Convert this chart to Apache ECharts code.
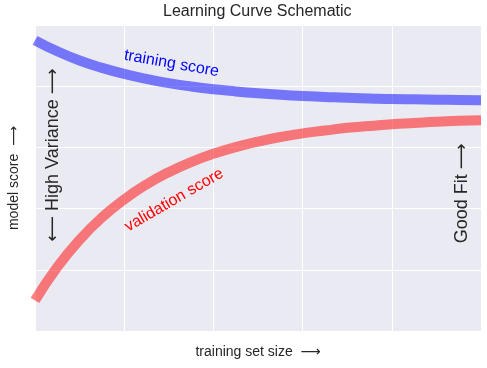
<!DOCTYPE html>
<html>
<head>
<meta charset="utf-8">
<script src="https://cdn.jsdelivr.net/npm/echarts@6/dist/echarts.min.js"></script>
<style>
html,body{margin:0;padding:0;background:#fff;}
#c{width:487px;height:368px;}
</style>
</head>
<body>
<div id="c"></div>
<script>
// training set size (fraction)
var trainingSize = [0, 0.05, 0.1, 0.15, 0.2, 0.25, 0.3, 0.35, 0.4, 0.45, 0.5, 0.55, 0.6, 0.65, 0.7, 0.75, 0.8, 0.85, 0.9, 0.95, 1.0];
var trainingScore = [0.950, 0.914, 0.884, 0.860, 0.840, 0.824, 0.810, 0.799, 0.790, 0.783, 0.777, 0.772, 0.768, 0.765, 0.762, 0.760, 0.758, 0.757, 0.756, 0.755, 0.754];
var validationScore = [0.100, 0.209, 0.298, 0.371, 0.430, 0.479, 0.519, 0.552, 0.579, 0.601, 0.619, 0.634, 0.646, 0.655, 0.664, 0.670, 0.676, 0.680, 0.684, 0.687, 0.689];
var xTicks = [0, 0.2, 0.4, 0.6, 0.8, 1.0];
var yTicks = [0, 0.2, 0.4, 0.6, 0.8, 1.0];

var FONT = '"Liberation Sans", Arial, "DejaVu Sans", sans-serif';
var TXT = '#262626';

function pairs(xs, ys) { return xs.map(function (x, i) { return [x, ys[i]]; }); }

var chart = echarts.init(document.getElementById('c'), null, {renderer: 'canvas'});
var axisCommon = {
  type: 'value',
  axisLabel: {show: false},
  axisTick: {show: false},
  axisLine: {show: false},
  splitLine: {show: true, lineStyle: {color: '#ffffff', width: 1}},
  nameLocation: 'middle',
  nameTextStyle: {fontFamily: FONT, fontSize: 14, color: TXT}
};
chart.setOption({
  animation: false,
  title: {
    text: 'Learning Curve Schematic',
    left: 163, top: 4, padding: 0,
    textStyle: {fontFamily: FONT, fontSize: 16, fontWeight: 'normal', color: TXT}
  },
  grid: {left: 35, right: 6, top: 25, bottom: 37, show: true, backgroundColor: '#EAEAF2', borderWidth: 0, containLabel: false, outerBoundsMode: 'none'},
  xAxis: Object.assign({}, axisCommon, {
    min: xTicks[0], max: xTicks[xTicks.length - 1], interval: xTicks[1] - xTicks[0],
    name: 'training set size  \u27F6', nameGap: 14
  }),
  yAxis: Object.assign({}, axisCommon, {
    min: yTicks[0], max: yTicks[yTicks.length - 1], interval: yTicks[1] - yTicks[0],
    name: 'model score  \u27F6', nameGap: 14
  }),
  series: [
    {
      type: 'line', data: pairs(trainingSize, trainingScore), smooth: true, showSymbol: false,
      lineStyle: {color: 'rgba(0,0,255,0.5)', width: 10}, emphasis: {disabled: true}, clip: true, z: 2
    },
    {
      type: 'line', data: pairs(trainingSize, validationScore), smooth: true, showSymbol: false,
      lineStyle: {color: 'rgba(255,0,0,0.5)', width: 10}, emphasis: {disabled: true}, clip: true, z: 3
    }
  ]
});

var annotations = [
  {text: 'training score', at: [0.306, 0.874], rot: -10, size: 16, color: '#0000ff'},
  {text: 'validation score', at: [0.312, 0.428], rot: 30, size: 16, color: '#ff0000'},
  {text: '\u27F5 High Variance \u27F6', at: [0.041, 0.575], rot: 90, size: 18, color: TXT},
  {text: 'Good Fit \u27F6', at: [0.957, 0.45], rot: 90, size: 18, color: TXT}
];
chart.setOption({
  graphic: annotations.map(function (a) {
    var p = chart.convertToPixel({gridIndex: 0}, a.at);
    return {
      type: 'text', x: p[0], y: p[1], rotation: a.rot * Math.PI / 180, z: 10,
      style: {text: a.text, fill: a.color, fontSize: a.size, fontFamily: FONT, align: 'center', verticalAlign: 'middle'}
    };
  })
});
</script>
</body>
</html>
